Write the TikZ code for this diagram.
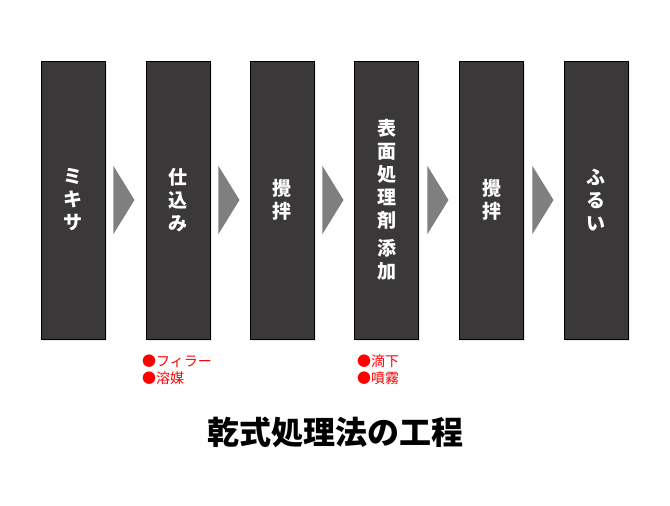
\documentclass[tikz,border=0pt]{standalone}
\usepackage{fontspec}
\setmainfont{Noto Sans CJK JP}
\usepackage{tikz}
\usetikzlibrary{shapes.geometric, positioning, shadows}
\definecolor{stepdark}{RGB}{58,56,56}
\definecolor{arrowgray}{RGB}{127,127,127}
\definecolor{notered}{RGB}{255,0,0}
\tikzset{
  stepbox/.style={
    rectangle, minimum width=64pt, minimum height=278pt,
    inner sep=0pt, align=center, draw=black, line width=0.6pt,
    fill=stepdark, text=white,
    font=\fontsize{19}{23}\selectfont\bfseries,
    drop shadow={shadow xshift=1.5pt, shadow yshift=-1.5pt, fill=gray!35}
  },
  chevron/.style={
    isosceles triangle, isosceles triangle stretches,
    minimum width=68pt, minimum height=21pt, inner sep=0pt,
    fill=arrowgray, draw=none, anchor=apex
  },
  notetext/.style={
    anchor=north west, align=left, inner sep=0pt, text=notered,
    font=\fontsize{14}{17}\selectfont
  },
}
\begin{document}
\begin{tikzpicture}[x=1pt, y=-1pt]
    \useasboundingbox (0,0) rectangle (670,506);
    \node[stepbox] (mix)   at(73,200)    {ミ\\キ\\サ};
    \node[stepbox] (prep)  at(178,200)   {仕\\込\\み};
    \node[stepbox] (stir1) at(282,200)   {攪\\拌};
    \node[stepbox] (coat)  at(386.5,200) {表\\面\\処\\理\\剤\\[5pt]添\\加};
    \node[stepbox] (stir2) at(491.5,200) {攪\\拌};
    \node[stepbox] (sieve) at(596,200)   {ふ\\る\\い};
    \node[chevron] (c1) at(135,200) {};
    \node[chevron] (c2) at(240,200) {};
    \node[chevron] (c3) at(344,200) {};
    \node[chevron] (c4) at(449,200) {};
    \node[chevron] (c5) at(554,200) {};
    \node[notetext] (prepnote) at(142,355) {●フィラー\\●溶媒};
    \node[notetext] (coatnote) at(357,355) {●滴下\\●噴霧};
    \node[font=\fontsize{32}{36}\selectfont\bfseries] (title) at(335,432)
         {乾式処理法の工程};
  \end{tikzpicture}
\end{document}
